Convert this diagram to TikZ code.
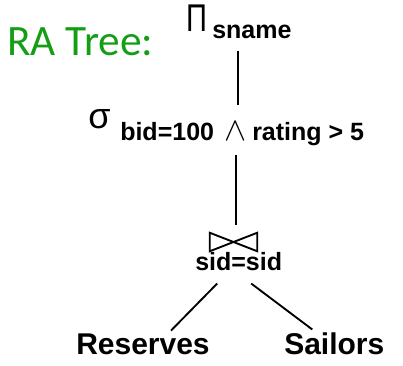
\documentclass[tikz,border=0pt]{standalone}
\usepackage{fontspec}
\setmainfont{Liberation Sans}
\newfontfamily\titlefont{Carlito}
\usetikzlibrary{calc}
\definecolor{ragreen}{RGB}{20,158,20}
\begin{document}
\begin{tikzpicture}[x=0.75pt,y=-0.75pt,
  lbl/.style={inner sep=0pt, anchor=base west, font=\bfseries\fontsize{18.75}{20}\selectfont},
  rel/.style={inner sep=0pt, anchor=base west, font=\bfseries\fontsize{22.5}{24}\selectfont},
  sym/.style={inner sep=0pt},
  edge/.style={line width=1.4pt}]
\useasboundingbox (0,0) rectangle (403,365);

% title
\node[inner sep=0pt, anchor=base west, text=ragreen,
      font=\titlefont\fontsize{32.5}{34}\selectfont] (title) at (7,55) {RA Tree:};

% projection
\node[sym, anchor=base west, font=\fontsize{29}{29}\selectfont] (pi) at (186,31) {\scalebox{0.75}[1]{Π}};
\node[lbl] (sname) at (212,38) {sname};

% selection
\node[sym, anchor=base west, font=\fontsize{27}{27}\selectfont] (sigma) at (88,128) {σ};
\node[lbl] (bid) at (120,140) {bid=100};
\node[sym, anchor=base, font=\fontsize{27}{27}\selectfont] (and) at (236,140) {$\wedge$};
\node[lbl] (rating) at (252,140) {rating > 5};

% join
\node[sym, minimum width=35.25pt, minimum height=13.5pt] (join) at (233.5,242) {};
\draw[line width=1.4pt, line join=miter]
  (join.north west) -- (join.south east) -- (join.north east) -- (join.south west) -- cycle;
\node[lbl] (cond) at (195,270) {sid=sid};

% relations
\node[rel] (res) at (76,354) {Reserves};
\node[rel] (sail) at (284,354) {Sailors};

% connectors
\coordinate (ptop) at (sname.south -| and.north);
\draw[edge] ($(ptop)+(2,12)$) -- ($(and.north)+(2,-16)$);
\draw[edge] ($(and.south)+(0,15)$) -- ($(join.north)+(2.5,-8)$);
\draw[edge] ($(cond.south)+(-21.5,13)$) -- ($(res.north)+(28,-2.5)$);
\draw[edge] ($(cond.south)+(12.5,13)$) -- ($(sail.north)+(-22,-2.5)$);
\end{tikzpicture}
\end{document}
